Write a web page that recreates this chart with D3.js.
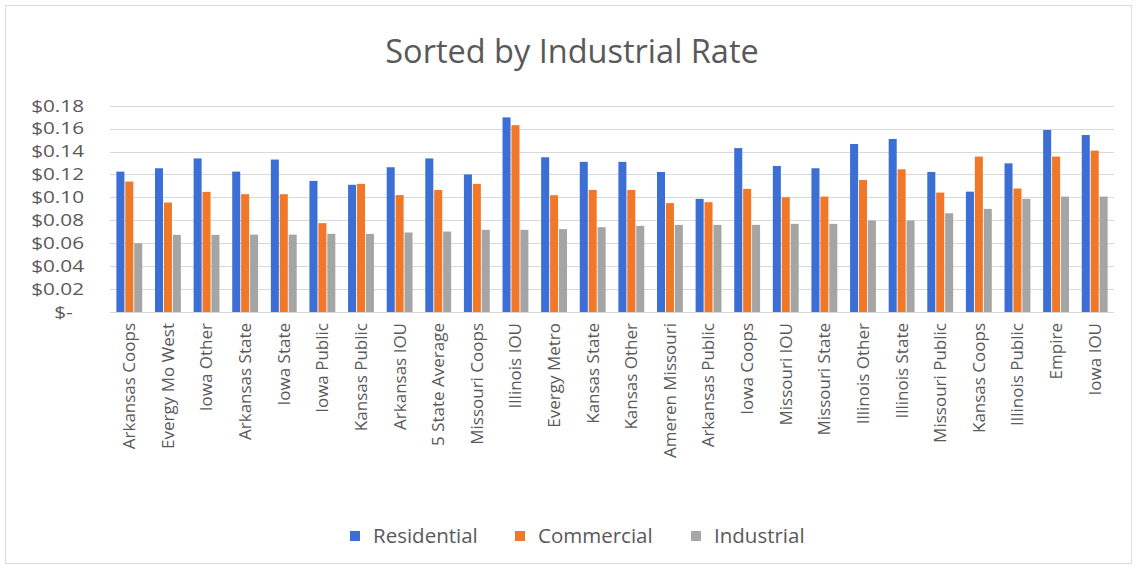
<!DOCTYPE html>
<html><head><meta charset="utf-8">
<script src="https://cdn.jsdelivr.net/npm/d3@7"></script>
<style>body{margin:0;background:#fff;} svg{display:block;} text{font-family:"Open Sans",sans-serif;}</style>
</head><body><svg id="c" width="1136" height="571"></svg>
<script>
const categories = ["Arkansas Coops","Evergy Mo West","Iowa Other","Arkansas State","Iowa State","Iowa Public","Kansas Public","Arkansas IOU","5 State Average","Missouri Coops","Illinois IOU","Evergy Metro","Kansas State","Kansas Other","Ameren Missouri","Arkansas Public","Iowa Coops","Missouri IOU","Missouri State","Illinois Other","Illinois State","Missouri Public","Kansas Coops","Illinois Public","Empire","Iowa IOU"];
const residential = [0.1225,0.1254,0.134,0.1225,0.133,0.1144,0.111,0.1263,0.134,0.120,0.1698,0.135,0.131,0.131,0.1222,0.0987,0.143,0.1274,0.1254,0.1466,0.151,0.1222,0.105,0.1297,0.1588,0.1544];
const commercial = [0.1138,0.0955,0.1048,0.1028,0.1028,0.0775,0.1118,0.102,0.1065,0.1118,0.163,0.1019,0.1065,0.1065,0.095,0.0958,0.1074,0.1001,0.1007,0.1152,0.1245,0.1042,0.1356,0.1077,0.1356,0.1408];
const industrial = [0.060,0.0673,0.0673,0.0675,0.0675,0.0682,0.0682,0.0694,0.0702,0.0717,0.0717,0.0723,0.074,0.0752,0.076,0.076,0.076,0.0769,0.0769,0.0798,0.0798,0.0862,0.090,0.0987,0.1007,0.1007];
const seriesNames = ["Residential","Commercial","Industrial"];
const colors = ["#3c6fd6","#f07828","#a5a5a5"];
const yTicks = [0,0.02,0.04,0.06,0.08,0.10,0.12,0.14,0.16,0.18];

const svg = d3.select("#c");
svg.append("rect").attr("x",5.5).attr("y",5.5).attr("width",1126).attr("height",558)
  .attr("fill","#fff").attr("stroke","#dcdcdc");

const pLeft=110, pRight=1114, pTop=105.7, pBottom=312;
const x = d3.scaleBand().domain(categories).range([pLeft,pRight]).paddingInner(0.33).paddingOuter(0.165);
const xs = d3.scaleBand().domain(seriesNames).range([0,x.bandwidth()]).paddingInner(0.1);
const y = d3.scaleLinear().domain([0,0.18]).range([pBottom,pTop]);

svg.append("g").selectAll("line").data(yTicks).join("line")
  .attr("x1",pLeft).attr("x2",pRight).attr("y1",d=>Math.round(y(d))+0.5).attr("y2",d=>Math.round(y(d))+0.5)
  .attr("stroke","#d9d9d9").attr("stroke-width",1.2);

const yAxis = d3.axisLeft(y).tickValues(yTicks).tickSize(0).tickPadding(0)
  .tickFormat(d=> d===0 ? "$-" : "$"+d.toFixed(2));
const gy = svg.append("g").attr("transform",`translate(${pLeft-26},0)`).call(yAxis);
gy.select(".domain").remove();
gy.selectAll("text").attr("font-size",16.6).attr("fill","#595959").attr("font-family","Open Sans, sans-serif")
  .attr("transform","scale(1.25,1)");
gy.selectAll(".tick").filter(d=>d===0).select("text").attr("dx",-9);

const data = [residential, commercial, industrial];
seriesNames.forEach((s,i)=>{
  svg.append("g").selectAll("rect").data(categories).join("rect")
    .attr("x",(c)=>x(c)+xs(s)).attr("width",xs.bandwidth())
    .attr("y",(c,j)=>y(data[i][j])).attr("height",(c,j)=>pBottom-y(data[i][j]))
    .attr("fill",colors[i]);
});

const xAxis = d3.axisBottom(x).tickSize(0).tickPadding(0);
const gx = svg.append("g").attr("transform",`translate(0,${pBottom})`).call(xAxis);
gx.select(".domain").remove();
gx.selectAll("text").attr("font-size",17).attr("fill","#595959").attr("font-family","Open Sans, sans-serif")
  .attr("transform","rotate(-90)").attr("text-anchor","end").attr("x",-11).attr("y",0).attr("dy","0.35em").attr("dx",0);

svg.append("text").attr("x",572).attr("y",63).attr("text-anchor","middle")
  .attr("font-size",32.5).attr("fill","#595959").text("Sorted by Industrial Rate");

const legX=[350,515,691];
const lg = svg.append("g");
seriesNames.forEach((s,i)=>{
  lg.append("rect").attr("x",legX[i]).attr("y",531).attr("width",10).attr("height",10).attr("fill",colors[i]);
  lg.append("text").attr("x",legX[i]+23).attr("y",536).attr("dy","0.35em").attr("font-size",20.5).attr("fill","#595959").text(s);
});
</script></body></html>
